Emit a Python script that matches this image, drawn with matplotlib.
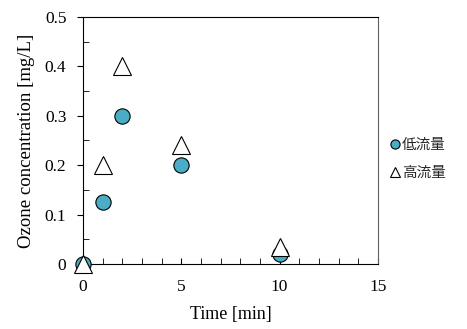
import matplotlib.pyplot as plt
from matplotlib.ticker import MultipleLocator

plt.rcParams["font.family"] = ["Liberation Serif", "DejaVu Serif"]

time_min = [0, 1, 2, 5, 10]
low_flow = [0, 0.125, 0.3, 0.2, 0.02]
high_flow = [0, 0.2, 0.4, 0.24, 0.035]
labels = ["低流量", "高流量"]

fig = plt.figure(figsize=(4.67, 3.29), dpi=100)
ax = fig.add_axes([0.178, 0.198, 0.631, 0.75])

ax.plot(time_min, low_flow, "o", ms=11, mfc="#4BACC6", mec="black",
        mew=0.8, clip_on=False, zorder=3, label=labels[0])
ax.plot(time_min, high_flow, "^", ms=13, mfc="white", mec="black",
        mew=0.8, clip_on=False, zorder=4, label=labels[1])

ax.set_xlim(0, 15)
ax.set_ylim(0, 0.5)
ax.xaxis.set_major_locator(MultipleLocator(5))
ax.xaxis.set_minor_locator(MultipleLocator(1))
ax.set_yticks([0, 0.1, 0.2, 0.3, 0.4, 0.5])
ax.set_yticklabels(["0", "0.1", "0.2", "0.3", "0.4", "0.5"])
ax.yaxis.set_minor_locator(MultipleLocator(0.05))
ax.tick_params(axis="x", which="both", direction="in", length=4,
               labelsize=12.5, pad=11)
ax.tick_params(axis="y", which="major", direction="out", length=4,
               labelsize=12.5, pad=8)
ax.tick_params(axis="y", which="minor", direction="in", length=4)
ax.spines["right"].set_color("#606060")
ax.set_xlabel("Time [min]", fontsize=13, labelpad=8)
ax.set_ylabel("Ozone concentration [mg/L]", fontsize=13.5, labelpad=7)

leg = ax.legend(loc="center left", bbox_to_anchor=(1.0, 0.425), frameon=False,
                prop={"family": ["Noto Sans CJK JP"], "size": 10.5},
                handlelength=0.5, handletextpad=0.25, markerscale=0.6,
                labelspacing=0.95)
for t in leg.get_texts():
    t.set_color("#262626")

fig.savefig("out.png", dpi=100)
